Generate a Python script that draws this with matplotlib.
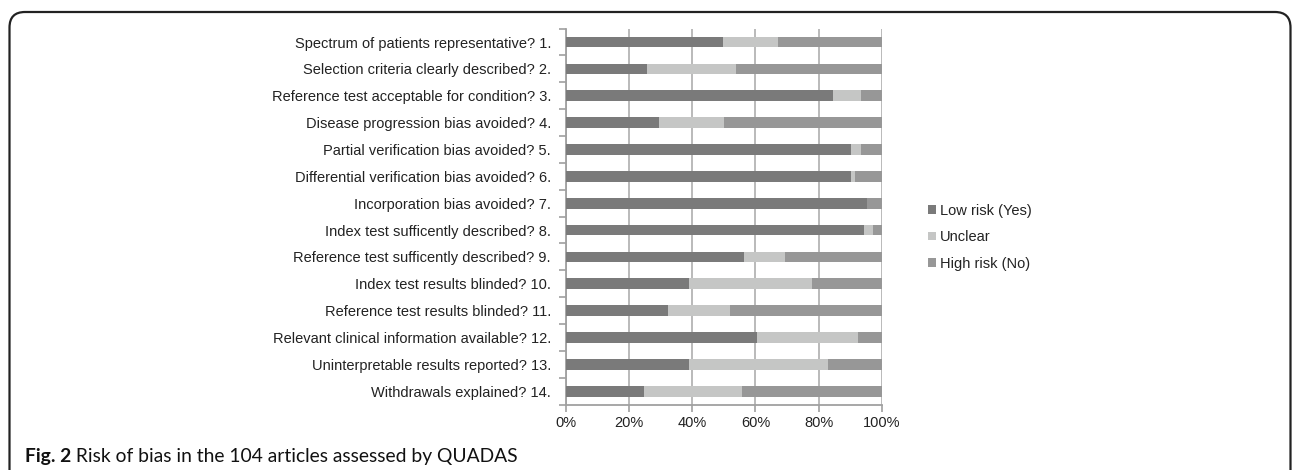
import matplotlib
matplotlib.use("Agg")
import matplotlib.pyplot as plt
from matplotlib.patches import FancyBboxPatch
import numpy as np

categories = [
    "Spectrum of patients representative? 1.",
    "Selection criteria clearly described? 2.",
    "Reference test acceptable for condition? 3.",
    "Disease progression bias avoided? 4.",
    "Partial verification bias avoided? 5.",
    "Differential verification bias avoided? 6.",
    "Incorporation bias avoided? 7.",
    "Index test sufficently described? 8.",
    "Reference test sufficently described? 9.",
    "Index test results blinded? 10.",
    "Reference test results blinded? 11.",
    "Relevant clinical information available? 12.",
    "Uninterpretable results reported? 13.",
    "Withdrawals explained? 14.",
]
low_risk = [49.7, 25.7, 84.5, 29.5, 90.3, 90.3, 95.3, 94.2, 56.5, 39.1, 32.3, 60.5, 39.1, 24.7]
unclear = [17.5, 28.1, 8.9, 20.4, 3.1, 1.2, 0.0, 3.1, 12.8, 38.8, 19.7, 31.8, 43.7, 31.0]
high_risk = [round(100 - a - b, 1) for a, b in zip(low_risk, unclear)]
series_names = ["Low risk (Yes)", "Unclear", "High risk (No)"]
x_ticks = [0, 20, 40, 60, 80, 100]
caption_bold = "Fig. 2"
caption_rest = " Risk of bias in the 104 articles assessed by QUADAS"

plt.rcParams["font.family"] = ["Liberation Sans", "DejaVu Sans"]
colors = ["#7a7a7a", "#c5c6c5", "#979797"]
W, H = 1292, 470
fig = plt.figure(figsize=(W / 100, H / 100), dpi=100)
LBL = dict(fontsize=10.5, color="#222222", family=["Liberation Sans", "DejaVu Sans"])

left, right, top, bottom = 565.7, 882.0, 28.6, 404.6
ax = fig.add_axes([left / W, 1 - bottom / H, (right - left) / W, (bottom - top) / H])

n = len(categories)
y = np.arange(n)
vals = [low_risk, unclear, high_risk]
start = np.zeros(n)
handles = []
for v, c, name in zip(vals, colors, series_names):
    v = np.array(v)
    h = ax.barh(y, v, left=start, height=0.4, color=c, label=name, zorder=3)
    handles.append(h)
    start = start + v

ax.set_xlim(0, 100)
ax.set_ylim(n - 0.5, -0.5)
ax.set_xticks(x_ticks)
ax.set_xticklabels([f"{t}%" for t in x_ticks], **LBL)
ax.set_yticks(y)
ax.set_yticklabels(categories, **LBL)
ax.set_yticks(np.arange(-0.5, n, 1.0), minor=True)
ax.tick_params(axis="y", which="major", length=0, pad=10.6)
ax.tick_params(axis="y", which="minor", length=5, color="#a0a0a0", width=1.2)
ax.tick_params(axis="x", which="major", length=5, color="#a0a0a0", width=1.2, pad=3)

ax.grid(axis="x", color="#b4b4b4", linewidth=1.3, zorder=0)
for s in ["top", "right"]:
    ax.spines[s].set_visible(False)
for s in ["left", "bottom"]:
    ax.spines[s].set_color("#a0a0a0")
    ax.spines[s].set_linewidth(1.3)

leg = fig.legend(handles=handles, labels=series_names, loc="upper left",
                 bbox_to_anchor=(922 / W, 1 - 198 / H), frameon=False,
                 prop=dict(size=10.5, family=["Liberation Sans", "DejaVu Sans"]),
                 handlelength=0.55, handleheight=0.55,
                 handletextpad=0.25, labelspacing=0.85, borderaxespad=0)
for t in leg.get_texts():
    t.set_color("#222222")

# frame
frame = FancyBboxPatch((9.5 / W, -0.2), (1290.5 - 9.5) / W, (1 - 12 / H) + 0.2,
                       boxstyle="round,pad=0,rounding_size=0.012",
                       transform=fig.transFigure, fill=False, edgecolor="#222222",
                       linewidth=1.6, mutation_aspect=W / H)
fig.add_artist(frame)

# caption (sized so that it spans the same width as in the reference)
cap_family = ["Lato", "DejaVu Sans"]
renderer = fig.canvas.get_renderer()
probe1 = fig.text(0, 0, caption_bold, fontsize=10, fontweight="bold", family=cap_family)
probe2 = fig.text(0, 0, caption_rest, fontsize=10, family=cap_family)
wtot = probe1.get_window_extent(renderer).width + probe2.get_window_extent(renderer).width
probe1.remove(); probe2.remove()
cap_size = 10 * (520 - 25) / wtot
t1 = fig.text(25 / W, 1 - 462 / H, caption_bold, fontsize=cap_size, fontweight="bold",
              family=cap_family, va="baseline", ha="left", color="#111111")
bb = t1.get_window_extent(renderer)
fig.text(bb.x1 / W, 1 - 462 / H, caption_rest, fontsize=cap_size,
         family=cap_family, va="baseline", ha="left", color="#111111")

fig.savefig("out.png", dpi=100)
